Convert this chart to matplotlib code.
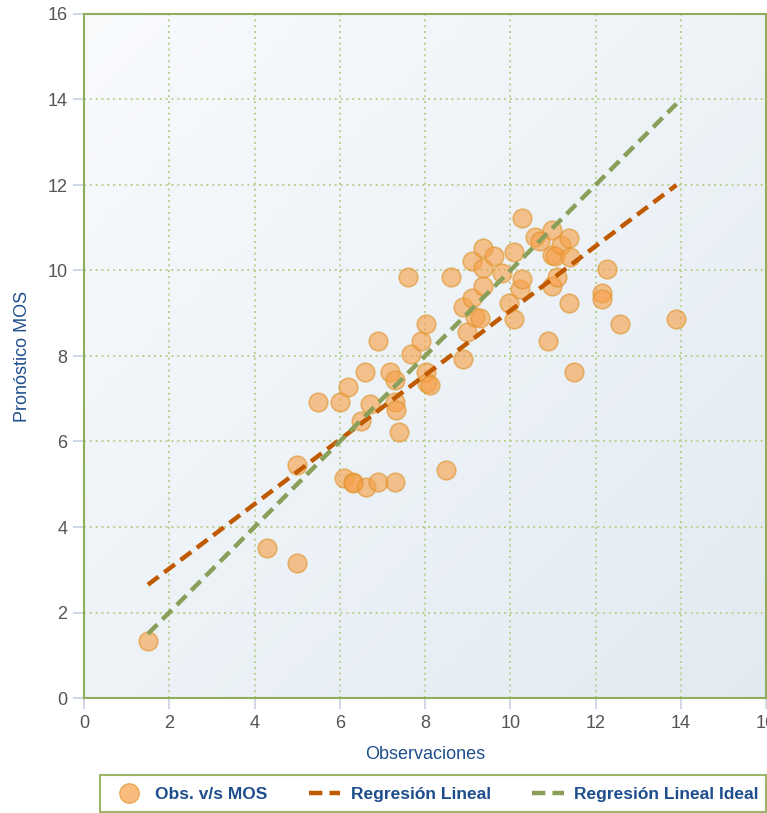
import numpy as np
import matplotlib.pyplot as plt
from matplotlib.lines import Line2D
from matplotlib.patches import Rectangle

# Observed values vs. MOS forecast
obs = [1.51, 4.29, 4.99, 4.99, 5.48, 6.00, 6.20, 6.09, 6.30, 6.32,
       6.61, 6.89, 7.30, 6.49, 6.71, 6.60, 6.89, 7.18, 7.30, 7.30,
       7.32, 7.38, 7.60, 7.67, 7.90, 8.02, 8.02, 8.04, 8.12, 8.49,
       8.61, 8.90, 8.90, 8.98, 9.10, 9.10, 9.18, 9.30, 9.37, 9.37,
       9.37, 9.61, 9.80, 9.98, 10.09, 10.09, 10.23, 10.27, 10.27, 10.58,
       10.70, 10.88, 10.98, 10.98, 11.06, 10.99, 11.10, 11.19, 11.39, 11.41,
       11.39, 11.50, 12.27, 12.16, 12.16, 12.58, 13.89]
mos = [1.33, 3.52, 3.15, 5.45, 6.93, 6.93, 7.27, 5.14, 5.05, 5.03,
       4.94, 5.05, 5.05, 6.47, 6.88, 7.63, 8.36, 7.63, 7.44, 6.93,
       6.74, 6.23, 9.85, 8.05, 8.34, 8.75, 7.63, 7.36, 7.32, 5.33,
       9.85, 9.15, 7.94, 8.57, 9.35, 10.22, 8.92, 8.88, 10.52, 10.05,
       9.63, 10.34, 9.93, 9.23, 10.44, 8.86, 9.56, 9.80, 11.22, 10.78,
       10.68, 8.34, 10.95, 10.37, 10.33, 9.63, 9.85, 10.60, 10.75, 10.31,
       9.23, 7.63, 10.04, 9.47, 9.33, 8.75, 8.86]

# Fitted regression line and the ideal 1:1 line
reg_x = [1.5, 13.9]
reg_y = [2.65, 12.0]
ideal_x = [1.5, 13.9]
ideal_y = [1.5, 13.9]

ticks = [0, 2, 4, 6, 8, 10, 12, 14, 16]
labels = ["Obs. v/s MOS", "Regresión Lineal", "Regresión Lineal Ideal"]

plt.rcParams['font.family'] = ['Liberation Sans', 'DejaVu Sans']

W, H = 767, 813
fig = plt.figure(figsize=(W / 100, H / 100), dpi=100)
ax = fig.add_axes([84 / W, 1 - 698 / H, 682 / W, 684 / H])

# soft diagonal background gradient: light at top-left, darker at bottom-right
gx, gy = np.meshgrid(np.linspace(0, 1, 200), np.linspace(0, 1, 200))
g = (gx + (1 - gy)) / 2
c0 = np.array([0.975, 0.983, 0.992])
c1 = np.array([0.885, 0.920, 0.945])
img = c0[None, None, :] * (1 - g[..., None]) + c1[None, None, :] * g[..., None]
ax.imshow(img, extent=[0, 16, 16, 0], aspect='auto', zorder=0, origin='upper')
ax.set_xlim(0, 16)
ax.set_ylim(0, 16)

ax.set_xticks(ticks)
ax.set_yticks(ticks)
ax.grid(True, color='#BCCF8F', linestyle=(0, (1, 2)), linewidth=1.4, zorder=1)

ax.scatter(obs, mos, s=180, facecolor='#F7A048', edgecolor='#E0952E',
           linewidth=1.2, alpha=0.62, zorder=3)
ax.plot(reg_x, reg_y, color='#C05A00', linewidth=3.2,
        dashes=(3, 1.6), zorder=4)
ax.plot(ideal_x, ideal_y, color='#8AA05A', linewidth=3.2,
        dashes=(3, 1.6), zorder=4)

for s in ax.spines.values():
    s.set_color('#8FAE5A')
    s.set_linewidth(1.5)

ax.tick_params(axis='both', direction='out', length=8, width=1.2,
               color='#C8D2E2', labelcolor='#555555', labelsize=13, pad=4)

ax.set_xlabel('Observaciones', color='#1F4E8C', fontsize=13, labelpad=10)
ax.set_ylabel('Pronóstico MOS', color='#1F4E8C', fontsize=13, labelpad=12)

# legend box along the bottom
fig.patches.append(Rectangle((100 / W, 1 - 812 / H), 666 / W, 37 / H,
                             transform=fig.transFigure, facecolor='white',
                             edgecolor='#9CB56A', linewidth=1.5, zorder=0))
handles = [
    Line2D([], [], marker='o', linestyle='none', markersize=14,
           markerfacecolor='#F7A048', markeredgecolor='#E0952E', alpha=0.7),
    Line2D([], [], color='#C05A00', linewidth=3.2, dashes=(3, 1.6)),
    Line2D([], [], color='#8AA05A', linewidth=3.2, dashes=(3, 1.6)),
]
leg = fig.legend(handles, labels, loc='center', ncol=3,
                 bbox_to_anchor=(436 / W, 1 - 794 / H), frameon=False,
                 handlelength=1.8, handletextpad=0.6, columnspacing=2.4,
                 prop={'weight': 'bold', 'size': 12.5})
for t in leg.get_texts():
    t.set_color('#1F4E8C')

fig.savefig('out.png', dpi=100)
